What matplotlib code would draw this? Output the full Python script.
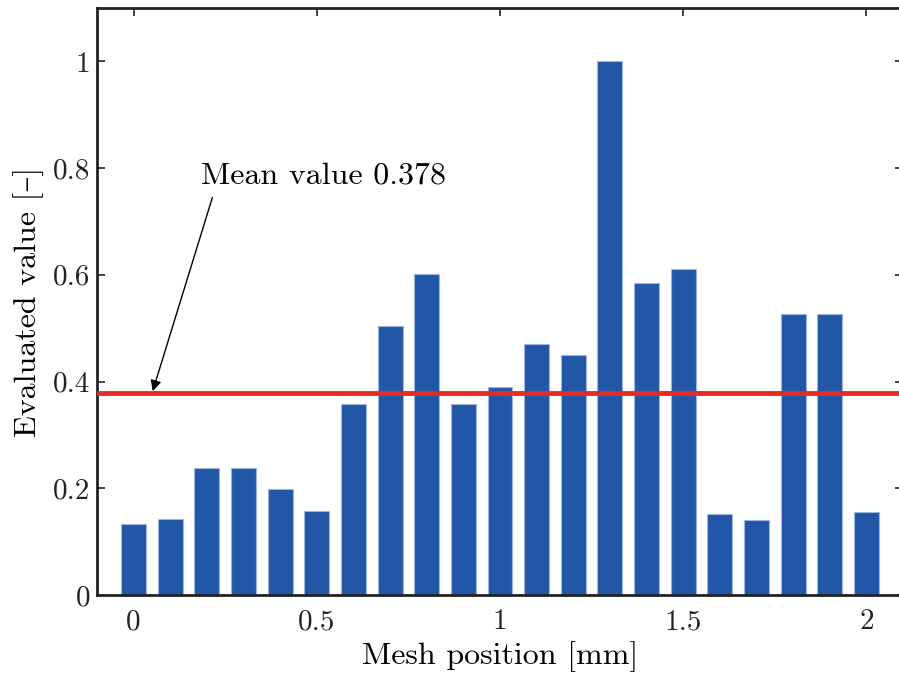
import numpy as np
import matplotlib
matplotlib.use("Agg")
import matplotlib.pyplot as plt
from matplotlib.ticker import FuncFormatter

plt.rcParams['font.family'] = ['cmr10', 'DejaVu Serif']
plt.rcParams['axes.formatter.use_mathtext'] = True

# mesh positions [mm] and evaluated values
positions = [0.0, 0.1, 0.2, 0.3, 0.4, 0.5, 0.6, 0.7, 0.8, 0.9, 1.0,
             1.1, 1.2, 1.3, 1.4, 1.5, 1.6, 1.7, 1.8, 1.9, 2.0]
values = [0.133, 0.142, 0.238, 0.238, 0.198, 0.157, 0.358, 0.505, 0.601,
          0.358, 0.389, 0.470, 0.449, 1.000, 0.584, 0.610, 0.152, 0.140,
          0.526, 0.526, 0.156]
mean_value = 0.378

fig = plt.figure(figsize=(8.99, 6.75), dpi=100)
ax = fig.add_axes([97 / 899, 80 / 675, 806 / 899, 587 / 675])

ax.bar(positions, values, width=0.068, color='#2257a8',
       edgecolor='#9fb6dc', linewidth=0.8, zorder=2)
ax.axhline(mean_value, color='#e62b25', linewidth=3.5, zorder=3)

# label and arrow pointing at the mean line
ax.text(0.185, 0.785, 'Mean value %.3f' % mean_value, fontsize=23,
        ha='left', va='center')
ax.annotate('', xy=(0.052, 0.382), xytext=(0.215, 0.745),
            arrowprops=dict(arrowstyle='-|>', color='black', lw=1.0,
                            mutation_scale=16, shrinkA=0, shrinkB=0))

ax.set_xlim(-0.1, 2.1)
ax.set_ylim(0, 1.1)
ax.set_xticks([0, 0.5, 1, 1.5, 2])
ax.set_yticks([0, 0.2, 0.4, 0.6, 0.8, 1])
fmt = FuncFormatter(lambda v, p: '%g' % v)
ax.xaxis.set_major_formatter(fmt)
ax.yaxis.set_major_formatter(fmt)
ax.tick_params(direction='in', top=True, right=True, length=6, width=1.2,
               labelsize=21, colors='#222222')
ax.tick_params(axis='x', pad=10)
ax.tick_params(axis='y', pad=5)
for s in ax.spines.values():
    s.set_linewidth(2)
    s.set_color('#222222')

ax.set_xlabel('Mesh position [mm]', fontsize=23, labelpad=4)
ax.set_ylabel('Evaluated value [\u2013]', fontsize=23, labelpad=6)

fig.savefig('out.png', dpi=100)
